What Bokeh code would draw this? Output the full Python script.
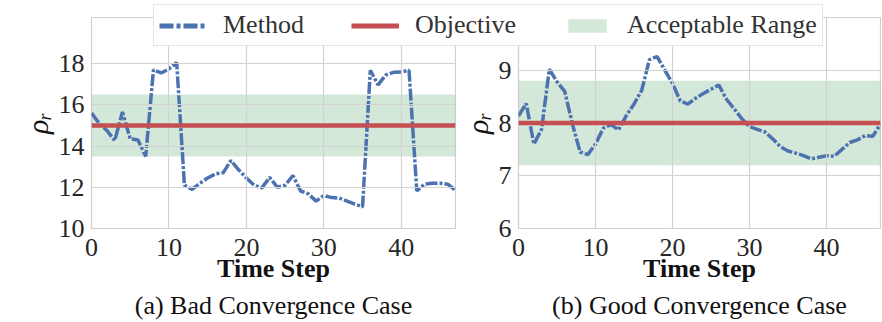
from bokeh.plotting import figure
from bokeh.models import (Range1d, BoxAnnotation, Span, Legend, LegendItem, FixedTicker,
                          LinearAxis)
from bokeh.layouts import row, column
from bokeh.embed import file_html
from bokeh.resources import INLINE

# ---------------- data ----------------
steps = list(range(48))
bad_method = [15.6, 15.1, 14.75, 14.27, 15.65, 14.35, 14.3, 13.5, 17.7, 17.55,
              17.75, 18.05, 12.1, 11.9, 12.2, 12.45, 12.65, 12.7, 13.3, 12.85,
              12.45, 12.1, 11.97, 12.48, 12.0, 12.1, 12.57, 11.82, 11.68, 11.33,
              11.6, 11.5, 11.48, 11.33, 11.18, 11.05, 17.68, 16.97, 17.45, 17.58,
              17.6, 17.68, 11.82, 12.15, 12.2, 12.2, 12.15, 11.85]
good_method = [8.13, 8.37, 7.6, 7.88, 9.02, 8.78, 8.6, 7.98, 7.45, 7.4,
               7.6, 7.9, 7.97, 7.87, 8.14, 8.36, 8.62, 9.2, 9.26, 9.0,
               8.75, 8.42, 8.36, 8.47, 8.56, 8.64, 8.72, 8.45, 8.27, 8.08,
               7.93, 7.88, 7.83, 7.7, 7.55, 7.47, 7.43, 7.38, 7.32, 7.35,
               7.38, 7.37, 7.5, 7.63, 7.68, 7.76, 7.75, 7.98]
bad_objective = 15.0
good_objective = 8.0
bad_range = [13.5, 16.5]
good_range = [7.2, 8.8]
bad_yticks = [10, 12, 14, 16, 18]
good_yticks = [6, 7, 8, 9]
xticks = [0, 10, 20, 30, 40]
captions = ["(a) Bad Convergence Case", "(b) Good Convergence Case"]
legend_labels = ["Method", "Objective", "Acceptable Range"]

# ---------------- style ----------------
BLUE = "#4C72B0"
RED = "#C44E52"
GREEN = "#55A868"
FONT = "Liberation Serif"
GRID = "#d2d2d2"
DASH = "12 2 3 2"
H = 322


def panel(y, objective, rng, yticks, ylim, caption, width, border_left, border_right, border_top):
    p = figure(width=width, height=H, output_backend="svg", toolbar_location=None,
               x_range=Range1d(0, 47), y_range=Range1d(*ylim),
               min_border_left=border_left, min_border_right=border_right,
               min_border_top=border_top, min_border_bottom=94)
    p.background_fill_color = "white"
    p.border_fill_color = "white"
    p.outline_line_color = "#cfcfcf"
    p.outline_line_width = 1.2

    band = BoxAnnotation(bottom=rng[0], top=rng[1], fill_color=GREEN, fill_alpha=0.26,
                         line_color=None, level="underlay")
    p.add_layout(band)

    for g in p.grid:
        g.grid_line_color = GRID
        g.grid_line_width = 1.2
        g.level = "glyph"
    p.xgrid.ticker = FixedTicker(ticks=xticks)
    p.ygrid.ticker = FixedTicker(ticks=yticks)

    p.line(steps, y, line_color=BLUE, line_width=3.5, line_dash=DASH)
    p.add_layout(Span(location=objective, dimension="width", line_color=RED, line_width=4.5))

    xa = p.xaxis[0]
    ya = p.yaxis[0]
    for ax in (xa, ya):
        ax.axis_line_color = None
        ax.major_tick_line_color = None
        ax.minor_tick_line_color = None
        ax.major_tick_out = 0
        ax.major_tick_in = 0
        ax.minor_tick_out = 0
        ax.major_label_text_font = FONT
        ax.major_label_text_font_size = "26px"
        ax.major_label_text_color = "#262626"
        ax.axis_label_text_font = FONT
        ax.axis_label_text_color = "#111111"
    xa.ticker = FixedTicker(ticks=xticks)
    ya.ticker = FixedTicker(ticks=yticks)
    xa.major_label_standoff = 10
    ya.major_label_standoff = 7
    xa.axis_label = "Time Step"
    xa.axis_label_text_font_style = "bold"
    xa.axis_label_text_font_size = "26px"
    xa.axis_label_standoff = -5
    ya.axis_label = "ρᵣ"
    ya.axis_label_text_font_style = "italic"
    ya.axis_label_text_font_size = "30px"
    ya.axis_label_standoff = 2

    # caption as a tick-less axis below the "Time Step" axis
    cap = LinearAxis(ticker=FixedTicker(ticks=[]), axis_label=caption,
                     axis_line_color=None, major_tick_line_color=None, minor_tick_line_color=None,
                     major_tick_out=0, major_tick_in=0, minor_tick_out=0, minor_tick_in=0,
                     major_label_standoff=0, axis_label_standoff=5,
                     axis_label_text_font=FONT, axis_label_text_font_size="26px",
                     axis_label_text_font_style="normal", axis_label_text_color="#111111")
    p.add_layout(cap, "below")
    return p


p1 = panel(bad_method, bad_objective, bad_range, bad_yticks, (10, 20.24), captions[0],
           width=457, border_left=91, border_right=2, border_top=13)
p2 = panel(good_method, good_objective, good_range, good_yticks, (6, 10), captions[1],
           width=424, border_left=58, border_right=1, border_top=17)

# ---------------- shared legend (overlaid on top) ----------------
leg = figure(width=700, height=48, output_backend="svg", toolbar_location=None,
             x_range=Range1d(-3, -2), y_range=Range1d(-3, -2),
             x_axis_location=None, y_axis_location=None, min_border=0)
leg.grid.visible = False
leg.outline_line_color = None
leg.background_fill_color = None
leg.border_fill_color = None
r1 = leg.line(steps, bad_method, line_color=BLUE, line_width=5, line_dash="14 3 4 3")
r2 = leg.line([0, 47], [bad_objective, bad_objective], line_color=RED, line_width=5)
r3 = leg.quad(left=[0], right=[47], bottom=[bad_range[0]], top=[bad_range[1]],
              fill_color=GREEN, fill_alpha=0.26, line_color=None)
legend = Legend(items=[LegendItem(label=legend_labels[0], renderers=[r1]),
                       LegendItem(label=legend_labels[1], renderers=[r2]),
                       LegendItem(label=legend_labels[2], renderers=[r3])],
                orientation="horizontal", location="top_left", margin=0, padding=5,
                spacing=47, glyph_width=48, glyph_height=17, label_standoff=16,
                label_text_font=FONT, label_text_font_size="26px", label_text_color="#333333",
                border_line_color="#cccccc", border_line_width=1.2,
                background_fill_color="white", background_fill_alpha=1.0)
leg.add_layout(legend, "center")
leg.margin = (4 - H, 0, 0, 153)

layout = column(row(p1, p2), leg)

with open("out.html", "w") as f:
    f.write(file_html(layout, INLINE))
